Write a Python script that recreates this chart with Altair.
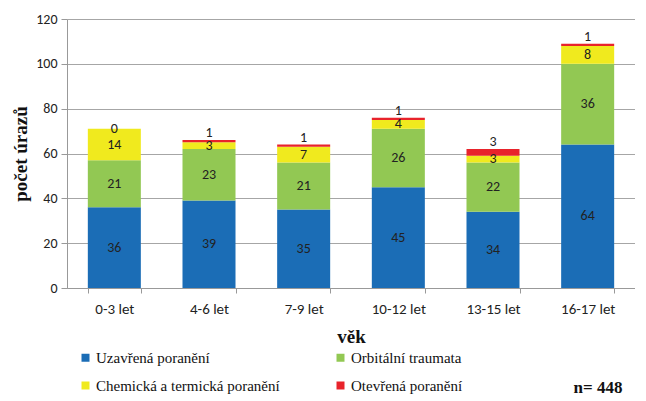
import altair as alt
import pandas as pd

ages = ["0-3 let", "4-6 let", "7-9 let", "10-12 let", "13-15 let", "16-17 let"]
series = ["Uzavřená poranění", "Orbitální traumata", "Chemická a termická poranění", "Otevřená poranění"]
colors = ["#1B6DB6", "#92C853", "#F0EA1E", "#E8232B"]
legend_order = ["Uzavřená poranění", "Chemická a termická poranění", "Orbitální traumata", "Otevřená poranění"]
uzavrena = [36, 39, 35, 45, 34, 64]
orbitalni = [21, 23, 21, 26, 22, 36]
chemicka = [14, 3, 7, 4, 3, 8]
otevrena = [0, 1, 1, 1, 3, 1]
y_ticks = [0, 20, 40, 60, 80, 100, 120]

rows = []
for s_idx, (name, vals) in enumerate(zip(series, [uzavrena, orbitalni, chemicka, otevrena])):
    for a, v in zip(ages, vals):
        rows.append({"age": a, "series": name, "value": v, "order": s_idx})
df = pd.DataFrame(rows)

SANS = "Carlito, Liberation Sans Narrow, Liberation Sans, sans-serif"
SERIF = "Liberation Serif, serif"

base = alt.Chart(df).transform_stack(
    stack="value", groupby=["age"], sort=[alt.SortField("order")], as_=["y0", "y1"]
).transform_calculate(
    mid="(datum.y0 + datum.y1) / 2",
    top="datum.value > 0 ? datum.y1 + 3 : datum.y1",
)

x_enc = alt.X("age:N", sort=ages, title="věk",
              scale=alt.Scale(paddingInner=0.44, paddingOuter=0.22),
              axis=alt.Axis(labelAngle=0, labelFont=SANS, labelFontSize=15, labelColor="#222",
                            labelPadding=8, tickBand="extent", tickSize=5, tickColor="#999",
                            domainColor="#999", titleFont=SERIF, titleFontSize=19,
                            titleFontWeight="bold", titleColor="#111", titlePadding=11))

bars = base.mark_bar().encode(
    x=x_enc,
    y=alt.Y("y0:Q", title="počet úrazů",
            scale=alt.Scale(domain=[0, 120], nice=False),
            axis=alt.Axis(values=y_ticks, labelFont=SANS, labelFontSize=14, labelColor="#222",
                          tickSize=6, tickColor="#999", domainColor="#999", gridColor="#a6a6a6",
                          labelPadding=4, titleFont=SERIF, titleFontSize=19, titleFontWeight="bold",
                          titleColor="#111", titlePadding=5)),
    y2="y1:Q",
    color=alt.Color("series:N", sort=series,
                    scale=alt.Scale(domain=series, range=colors),
                    legend=alt.Legend(orient="none", legendX=11, legendY=331, columns=2,
                                      values=legend_order,
                                      columnPadding=53, rowPadding=12, symbolType="square",
                                      symbolSize=64, symbolStrokeWidth=0, labelFont=SERIF,
                                      labelFontSize=15, labelColor="#111", labelOffset=3,
                                      title=None, padding=0, labelLimit=300)),
    order=alt.Order("order:Q"),
)

inner_labels = base.transform_filter("datum.order < 3").mark_text(
    font=SANS, fontSize=14, color="#222", baseline="middle"
).encode(
    x=alt.X("age:N", sort=ages),
    y=alt.Y("mid:Q"),
    text=alt.Text("value:Q"),
)

top_labels = base.transform_filter("datum.order == 3").mark_text(
    font=SANS, fontSize=14, color="#222", baseline="middle"
).encode(
    x=alt.X("age:N", sort=ages),
    y=alt.Y("top:Q"),
    text=alt.Text("value:Q"),
)

n_text = alt.Chart(pd.DataFrame({"t": ["n= 448"]})).mark_text(
    font=SERIF, fontSize=17, fontWeight="bold", color="#111", align="center", baseline="middle"
).encode(x=alt.value(531), y=alt.value(369), text="t:N")

chart = alt.layer(bars, inner_labels, top_labels, n_text).properties(
    width=568, height=269,
    autosize=alt.AutoSizeParams(type="none"),
    padding={"left": 59, "top": 11, "right": 0, "bottom": 110},
).configure_view(stroke=None).configure_axisX(grid=False)

chart.save("out.html", embed_options={"renderer": "svg", "actions": False})
